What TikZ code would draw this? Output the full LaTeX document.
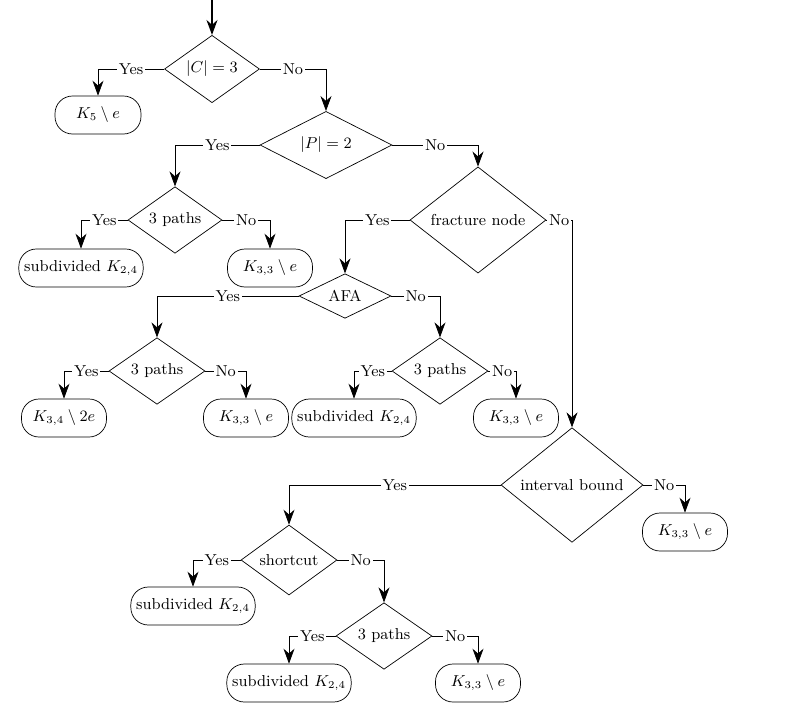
\documentclass[tikz,border=0pt]{standalone}
\usepackage{amsmath,amssymb}
\usetikzlibrary{shapes.geometric,arrows.meta}
\tikzset{
  test/.style={diamond, draw, inner sep=0pt, font=\small},
  leaf/.style={draw, rounded corners=3.5mm, minimum height=0.76cm, inner sep=3pt, font=\small},
  ans/.style={fill=white, inner sep=1pt, font=\small},
  every edge/.style={draw, -{Stealth[length=3mm,width=2.2mm]}}
}
\begin{document}
\begin{tikzpicture}[x=0.02cm, y=-0.02cm, >={Stealth[length=3mm,width=2.2mm]}]
  \useasboundingbox (0,0) rectangle (788,711);

  \coordinate (top) at (212,0);
  \node[test, minimum width=1.9cm, minimum height=1.24cm] at (212,69) (c) {$|C| = 3$};
  \node[leaf, minimum width=1.72cm] at (98,115) (k5) {$K_5 \setminus e$};
  \node[test, minimum width=2.64cm, minimum height=1.24cm] at (326,145) (p) {$|P| = 2$};
  \node[test, minimum width=1.88cm, minimum height=1.2cm] at (175,220) (pa) {3 paths};
  \node[test, minimum width=2.72cm, minimum height=1.28cm] at (478,220) (frac) {fracture node};
  \node[leaf] at (81,268) (sa) {subdivided $K_{2,4}$};
  \node[leaf, minimum width=1.7cm] at (270,268) (ka) {$K_{3,3} \setminus e$};
  \node[test, minimum width=1.84cm, minimum height=0.8cm] at (345,296) (afa) {AFA};
  \node[test, minimum width=1.92cm, minimum height=1.2cm] at (157,371) (pb) {3 paths};
  \node[test, minimum width=1.92cm, minimum height=1.2cm] at (440,371) (pc) {3 paths};
  \node[leaf, minimum width=1.7cm] at (64,418) (kf) {$K_{3,4} \setminus 2e$};
  \node[leaf, minimum width=1.7cm] at (246,418) (kb) {$K_{3,3} \setminus e$};
  \node[leaf] at (354,418) (sb) {subdivided $K_{2,4}$};
  \node[leaf, minimum width=1.7cm] at (516,418) (kc) {$K_{3,3} \setminus e$};
  \node[test, minimum width=2.84cm, minimum height=1.44cm] at (572,485) (ib) {interval bound};
  \node[leaf, minimum width=1.7cm] at (685,532) (kd) {$K_{3,3} \setminus e$};
  \node[test, minimum width=1.92cm, minimum height=1.24cm] at (289,560) (sc) {shortcut};
  \node[leaf] at (193,606) (sc2) {subdivided $K_{2,4}$};
  \node[test, minimum width=1.92cm, minimum height=1.2cm] at (384,636) (pd) {3 paths};
  \node[leaf] at (289,683) (sd) {subdivided $K_{2,4}$};
  \node[leaf, minimum width=1.7cm] at (478,683) (ke) {$K_{3,3} \setminus e$};

  \draw[->, thick] (top) -- (c);
  \foreach \a/\y/\n in {c/k5/p, p/pa/frac, pa/sa/ka, frac/afa/ib, afa/pb/pc,
                        pb/kf/kb, pc/sb/kc, ib/sc/kd, sc/sc2/pd, pd/sd/ke} {
    \draw[->] (\a.west) -| node[ans, pos=0.25] {Yes} (\y);
    \draw[->] (\a.east) -| node[ans, pos=0.25] {No} (\n);
  }
\end{tikzpicture}
\end{document}
